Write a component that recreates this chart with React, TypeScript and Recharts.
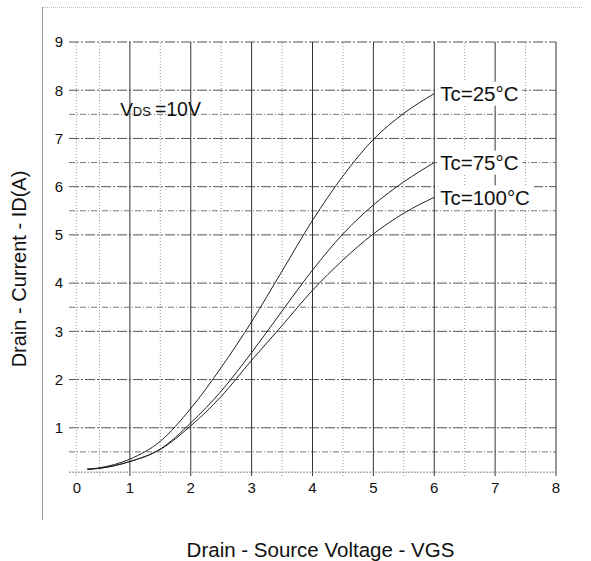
import React from 'react';
import {
  LineChart,
  Line,
  XAxis,
  YAxis,
  ReferenceLine,
  ReferenceDot,
} from 'recharts';

// gate voltage points (V)
const vgs = [0.3, 0.5, 1, 1.5, 2, 2.5, 3, 3.5, 4, 4.5, 5, 5.5, 6];

// drain current (A) per case temperature
const tc25 = [0.14, 0.17, 0.35, 0.72, 1.4, 2.25, 3.2, 4.25, 5.3, 6.22, 6.98, 7.52, 7.93];
const tc75 = [0.14, 0.16, 0.3, 0.56, 1.1, 1.76, 2.56, 3.42, 4.27, 5.02, 5.62, 6.1, 6.5];
const tc100 = [0.14, 0.16, 0.3, 0.55, 1.04, 1.65, 2.4, 3.12, 3.85, 4.48, 5.02, 5.45, 5.78];

const xTicks = [0, 1, 2, 3, 4, 5, 6, 7, 8];
const yTicks = [1, 2, 3, 4, 5, 6, 7, 8, 9];
const xMinor = [0.5, 1.5, 2.5, 3.5, 4.5, 5.5, 6.5, 7.5];
const yMinor = [0.5, 3.5, 5.5, 6.5, 7.5];

const seriesNames = ['Tc=25°C', 'Tc=75°C', 'Tc=100°C'];

const data = vgs.map((v, i) => ({
  vgs: v,
  t25: tc25[i],
  t75: tc75[i],
  t100: tc100[i],
}));

const FONT = '"Liberation Sans", Arial, sans-serif';

const endLabel = (text: string) => (props: any) => {
  const { x, y, index } = props;
  if (index !== vgs.length - 1) return null;
  const w = text.length * 11.6 + 4;
  return (
    <g>
      <rect x={x + 3} y={y - 12} width={w} height={24} fill="#fff" />
      <text x={x + 6} y={y + 7.5} fontSize={20.5} fontFamily={FONT} fill="#111">
        {text}
      </text>
    </g>
  );
};

const XTick = (props: any) => {
  const { x, y, payload } = props;
  const dx = payload.value === 0 ? 8 : 0;
  return (
    <text x={x + dx} y={y + 15} textAnchor="middle" fontSize={15} fontFamily={FONT} fill="#111">
      {payload.value}
    </text>
  );
};

const VdsNote = (props: any) => {
  const { cx, cy } = props;
  return (
    <text x={cx} y={cy} fontFamily={FONT} fill="#111">
      <tspan fontSize={19}>V</tspan>
      <tspan fontSize={13}>DS</tspan>
      <tspan fontSize={19.5} dx={4}>=10V</tspan>
    </text>
  );
};

const App: React.FC = () => {
  return (
    <div style={{ position: 'absolute', left: 0, top: 0, width: 591, height: 561, background: '#fff' }}>
      {/* page frame from the scan */}
      <div style={{ position: 'absolute', left: 42, top: 7, width: 540, height: 0, borderTop: '1px dotted #bbb' }} />
      <div style={{ position: 'absolute', left: 42, top: 7, width: 0, height: 513, borderLeft: '1px solid #999' }} />

      <LineChart
        width={591}
        height={561}
        data={data}
        margin={{ top: 42, right: 35, left: 39, bottom: 55 }}
      >
        <XAxis
          type="number"
          dataKey="vgs"
          domain={[0, 8]}
          ticks={xTicks}
          axisLine={false}
          tickLine={false}
          tickSize={0}
          height={30}
          tick={<XTick />}
          label={{
            value: 'Drain - Source Voltage - VGS',
            position: 'insideBottom',
            offset: -51,
            dx: 8,
            style: { fontSize: 20.5, fontFamily: FONT, fill: '#111' },
          }}
        />
        <YAxis
          type="number"
          domain={[0, 9]}
          ticks={yTicks}
          axisLine={false}
          tickLine={false}
          tickSize={0}
          tickMargin={6}
          width={30}
          tick={{ fontSize: 15, fontFamily: FONT, fill: '#111' }}
          label={{
            value: 'Drain - Current - ID(A)',
            angle: -90,
            position: 'center',
            dx: -35,
            dy: 10,
            style: { fontSize: 20, fontFamily: FONT, fill: '#111', textAnchor: 'middle' },
          }}
        />

        {/* minor grid */}
        {xMinor.map((v) => (
          <ReferenceLine key={'xm' + v} x={v} stroke="#999" strokeDasharray="1 2" />
        ))}
        {yMinor.map((v) => (
          <ReferenceLine key={'ym' + v} y={v} stroke="#777" strokeDasharray="6 2 1 2" />
        ))}
        {/* major grid */}
        {yTicks.map((v) => (
          <ReferenceLine key={'yM' + v} y={v} stroke="#555" strokeDasharray="10 2 2 2" />
        ))}
        {xTicks.slice(1).map((v) => (
          <ReferenceLine key={'xM' + v} x={v} stroke="#333" />
        ))}
        <ReferenceLine x={0.12} stroke="#999" strokeDasharray="1 2" />
        <ReferenceLine y={0.08} stroke="#888" strokeDasharray="2 1" />

        <ReferenceDot x={0.84} y={7.46} r={0} shape={<VdsNote />} />

        <Line
          type="monotone"
          dataKey="t25"
          stroke="#222"
          strokeWidth={1}
          dot={false}
          isAnimationActive={false}
          label={endLabel(seriesNames[0])}
        />
        <Line
          type="monotone"
          dataKey="t75"
          stroke="#222"
          strokeWidth={1}
          dot={false}
          isAnimationActive={false}
          label={endLabel(seriesNames[1])}
        />
        <Line
          type="monotone"
          dataKey="t100"
          stroke="#222"
          strokeWidth={1}
          dot={false}
          isAnimationActive={false}
          label={endLabel(seriesNames[2])}
        />
      </LineChart>
    </div>
  );
};

export default App;
